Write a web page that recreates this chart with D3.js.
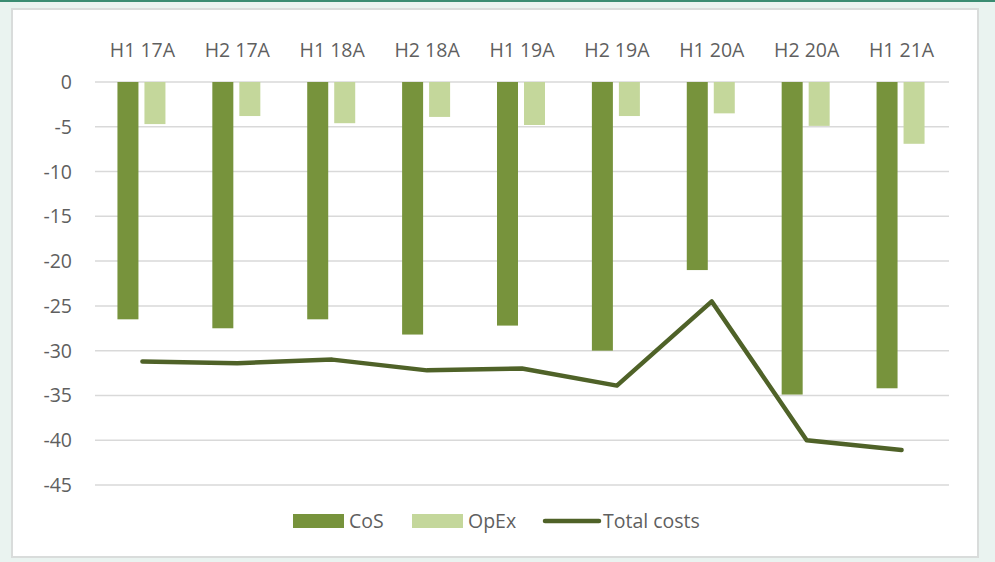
<html>
<head>
    <script src="https://d3js.org/d3.v7.min.js"></script>
    <style>
        body { margin: 0; background: #eaf3f0; }
        svg text { font-family: "Open Sans", "Liberation Sans", sans-serif; fill: #5f5f5f; }
    </style>
</head>
<body>
    <div id="cont"></div>
    <script>
        // data
        var periods = ["H1 17A", "H2 17A", "H1 18A", "H2 18A", "H1 19A", "H2 19A", "H1 20A", "H2 20A", "H1 21A"];
        var cos = [-26.5, -27.5, -26.5, -28.2, -27.2, -30.0, -21.0, -34.9, -34.2];
        var opex = [-4.7, -3.8, -4.6, -3.9, -4.8, -3.8, -3.5, -4.9, -6.9];
        var total = [-31.2, -31.4, -31.0, -32.2, -32.0, -33.9, -24.5, -40.0, -41.1];
        var yTicks = [0, -5, -10, -15, -20, -25, -30, -35, -40, -45];

        var width = 995, height = 562;
        var fs = 19.5;
        var svg = d3.select("#cont").append("svg")
            .attr("width", width)
            .attr("height", height);

        // outer frame
        svg.append("rect").attr("x", 0).attr("y", 0).attr("width", width).attr("height", 2)
            .attr("fill", "#3b8c72");
        svg.append("rect").attr("x", 12).attr("y", 9).attr("width", 966).attr("height", 548)
            .attr("fill", "#ffffff").attr("stroke", "#d9dcdb").attr("stroke-width", 2);

        var x = d3.scaleBand().domain(periods).range([95, 949]);
        var y = d3.scaleLinear().domain([0, -45]).range([82, 485]);

        // gridlines
        svg.append("g").selectAll("line").data(yTicks).join("line")
            .attr("x1", 95).attr("x2", 949)
            .attr("y1", function (d) { return y(d); })
            .attr("y2", function (d) { return y(d); })
            .attr("stroke", "#d9d9d9").attr("stroke-width", 1.5);

        // y labels
        svg.append("g").selectAll("text").data(yTicks).join("text")
            .attr("x", 72)
            .attr("y", function (d) { return y(d); })
            .attr("dy", "0.36em")
            .attr("text-anchor", "end")
            .attr("font-size", fs)
            .text(function (d) { return d; });

        // x labels on top
        svg.append("g").selectAll("text").data(periods).join("text")
            .attr("x", function (d) { return x(d) + x.bandwidth() / 2; })
            .attr("y", 57)
            .attr("text-anchor", "middle")
            .attr("font-size", fs)
            .text(function (d) { return d; });

        var bw = 21, gap = 6;
        svg.append("g").selectAll("rect").data(periods).join("rect")
            .attr("x", function (d) { return x(d) + x.bandwidth() / 2 - gap / 2 - bw - 1; })
            .attr("y", y(0))
            .attr("width", bw)
            .attr("height", function (d, i) { return y(cos[i]) - y(0); })
            .attr("fill", "#77933c");

        svg.append("g").selectAll("rect").data(periods).join("rect")
            .attr("x", function (d) { return x(d) + x.bandwidth() / 2 + gap / 2 - 1; })
            .attr("y", y(0))
            .attr("width", bw)
            .attr("height", function (d, i) { return y(opex[i]) - y(0); })
            .attr("fill", "#c4d79b");

        var line = d3.line()
            .x(function (d, i) { return x(periods[i]) + x.bandwidth() / 2; })
            .y(function (d) { return y(d); });

        svg.append("path").datum(total)
            .attr("d", line)
            .attr("fill", "none")
            .attr("stroke", "#4f6228")
            .attr("stroke-width", 4.5)
            .attr("stroke-linejoin", "round")
            .attr("stroke-linecap", "round");

        // legend
        var lg = svg.append("g");
        lg.append("rect").attr("x", 293).attr("y", 514).attr("width", 51).attr("height", 14).attr("fill", "#77933c");
        lg.append("text").attr("x", 349).attr("y", 521).attr("dy", "0.36em").attr("font-size", fs).text("CoS");
        lg.append("rect").attr("x", 412).attr("y", 514).attr("width", 51).attr("height", 14).attr("fill", "#c4d79b");
        lg.append("text").attr("x", 468).attr("y", 521).attr("dy", "0.36em").attr("font-size", fs).text("OpEx");
        lg.append("line").attr("x1", 545).attr("x2", 599).attr("y1", 521).attr("y2", 521)
            .attr("stroke", "#4f6228").attr("stroke-width", 4.5).attr("stroke-linecap", "round");
        lg.append("text").attr("x", 603).attr("y", 521).attr("dy", "0.36em").attr("font-size", fs).text("Total costs");
    </script>
</body>
</html>
